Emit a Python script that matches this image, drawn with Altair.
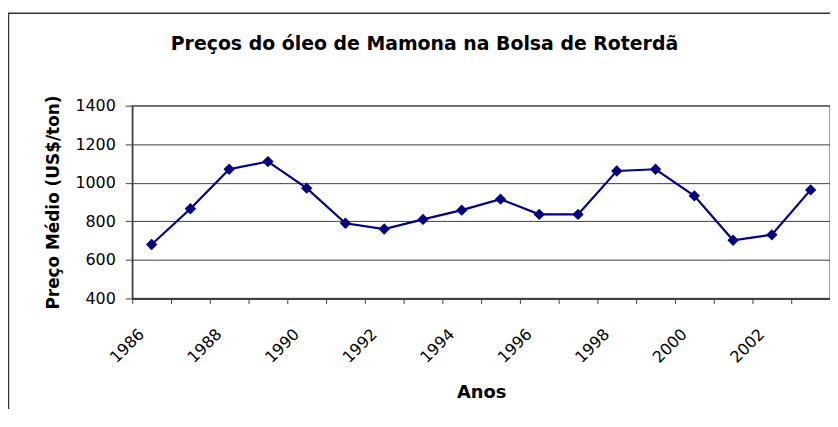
import altair as alt
import pandas as pd

# Data
anos = list(range(1986, 2004))
precos = [680, 865, 1070, 1110, 972, 790, 760, 810, 858, 915,
          836, 836, 1061, 1070, 932, 702, 730, 963]
y_ticks = [400, 600, 800, 1000, 1200, 1400]
x_ticks = list(range(1986, 2005))

df = pd.DataFrame({"ano": anos, "preco": precos})

W, H = 702, 194
FONT = "DejaVu Sans"
NAVY = "#000080"

x_enc = alt.X(
    "xc:Q",
    scale=alt.Scale(domain=[1986, 2004], nice=False, zero=False),
    axis=alt.Axis(
        title="Anos",
        values=x_ticks,
        labelExpr="(datum.value % 2 == 0 && datum.value < 2004) ? '' + datum.value : ''",
        labelAngle=-45,
        labelAlign="right",
        labelBaseline="middle",
        labelOffset=9,
        labelPadding=28,
        labelFont=FONT,
        labelFontSize=16,
        labelColor="black",
        labelOverlap=False,
        tickSize=5,
        tickColor="#404040",
        tickWidth=1,
        domainColor="#404040",
        domainWidth=2,
        grid=False,
        titleFont=FONT,
        titleFontSize=18,
        titleFontWeight="bold",
        titleColor="black",
        titlePadding=18,
    ),
)

y_enc = alt.Y(
    "preco:Q",
    scale=alt.Scale(domain=[400, 1400], nice=False, zero=False),
    axis=alt.Axis(
        title="Preço Médio (US$/ton)",
        values=y_ticks,
        tickCount=6,
        format="d",
        labelOverlap=False,
        grid=True,
        gridColor="#404040",
        gridWidth=1,
        tickSize=7,
        tickColor="#404040",
        labelPadding=10,
        labelFont=FONT,
        labelFontSize=16,
        labelColor="black",
        domainColor="#404040",
        domainWidth=1.5,
        titleFont=FONT,
        titleFontSize=17,
        titleFontWeight="bold",
        titleColor="black",
        titlePadding=12,
    ),
)

base = alt.Chart(df).transform_calculate(xc="datum.ano + 0.5").encode(x=x_enc, y=y_enc)

line = base.mark_line(color=NAVY, strokeWidth=2.2)
pts = base.mark_point(shape="diamond", filled=True, size=130, color=NAVY, opacity=1)

frame = alt.Chart(pd.DataFrame({"k": [0]})).mark_rect(
    fillOpacity=0, stroke="#333333", strokeWidth=1.5
).encode(
    x=alt.value(-124.5), x2=alt.value(800), y=alt.value(-93), y2=alt.value(400)
)

chart = alt.layer(frame, line, pts).properties(
    width=W,
    height=H,
    title=alt.Title(
        "Preços do óleo de Mamona na Bolsa de Roterdã",
        font=FONT,
        fontSize=19,
        fontWeight="bold",
        color="black",
        anchor="middle",
        frame="group",
        baseline="bottom",
        dx=-57,
        dy=61,
        offset=0,
    ),
    autosize=alt.AutoSizeParams(type="none"),
    padding={"left": 125, "top": 97, "right": 0, "bottom": 110},
    background="white",
).configure_view(stroke="#808080", strokeWidth=1.5)

chart.save("out.html", embed_options={"renderer": "svg", "actions": False})
